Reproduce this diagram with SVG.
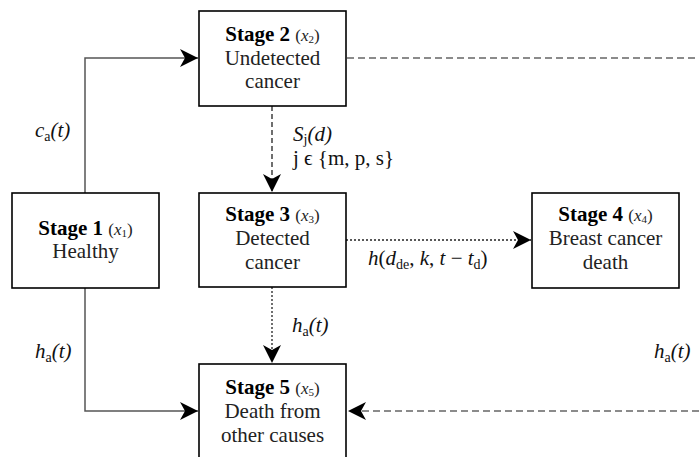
<svg xmlns="http://www.w3.org/2000/svg" width="699" height="457" viewBox="0 0 699 457" font-family="Liberation Serif">
<style>
.box{fill:#fff;stroke:#000;stroke-width:1.6}
.t{font-size:21px;fill:#222;text-anchor:middle}
.b{font-weight:bold;fill:#000}
.m{font-size:21px;font-style:italic;fill:#111}
.up{font-style:normal}
.sub{font-size:14px;font-style:normal}
.solid{fill:none;stroke:#555;stroke-width:1.5}
.dash{fill:none;stroke:#666;stroke-width:1.6;stroke-dasharray:7,4}
.dashv{fill:none;stroke:#222;stroke-width:1.3;stroke-dasharray:5,3}
.dot{fill:none;stroke:#222;stroke-width:1.3;stroke-dasharray:2,2}
</style>
<defs>
<marker id="ah" viewBox="0 0 18 18" refX="18" refY="9" markerWidth="18" markerHeight="18" markerUnits="userSpaceOnUse" orient="auto">
<path d="M0,0 L18,9 L0,18 L5,9 z" fill="#000"/>
</marker>
</defs>
<rect width="699" height="457" fill="#fff"/>
<g id="connectors">
<path class="solid" d="M85,193 V58 H198" marker-end="url(#ah)"/>
<path class="solid" d="M85,288 V411 H198" marker-end="url(#ah)"/>
<path class="dash" d="M347,58 H699"/>
<path class="dash" d="M699,411 H348" marker-end="url(#ah)"/>
<path class="dashv" d="M272,106 V192" marker-end="url(#ah)"/>
<path class="dot" d="M346,240 H531" marker-end="url(#ah)"/>
<path class="dot" d="M272,287 V363" marker-end="url(#ah)"/>
<text class="m" x="35" y="137">c<tspan class="sub" dy="4">a</tspan><tspan dy="-4">(t)</tspan></text>
<text class="m" x="35" y="358">h<tspan class="sub" dy="4">a</tspan><tspan dy="-4">(t)</tspan></text>
<text class="m" x="654" y="358">h<tspan class="sub" dy="4">a</tspan><tspan dy="-4">(t)</tspan></text>
<text class="m" x="292" y="332">h<tspan class="sub" dy="4">a</tspan><tspan dy="-4">(t)</tspan></text>
<text class="m" x="293" y="141">S<tspan class="sub" dy="3">j</tspan><tspan dy="-3">(d)</tspan></text>
<text class="m" x="293" y="165"><tspan class="up">j ϵ {m, p, s}</tspan></text>
<text class="m" x="368" y="265">h<tspan class="up">(</tspan>d<tspan class="sub" dy="4">de</tspan><tspan class="up" dy="-4">, </tspan>k<tspan class="up">, </tspan>t<tspan class="up"> − </tspan>t<tspan class="sub" dy="4">d</tspan><tspan class="up" dy="-4">)</tspan></text>
</g>
<g id="stage1">
<rect class="box" x="12" y="193" width="147" height="95"/>
<text class="t" x="85.5" y="235"><tspan class="b">Stage 1</tspan> <tspan font-size="17">(<tspan font-style="italic">x</tspan><tspan font-size="11" dy="2">1</tspan><tspan dy="-2">)</tspan></tspan></text>
<text class="t" x="85.5" y="258">Healthy</text>
</g>
<g id="stage2">
<rect class="box" x="199" y="11" width="147" height="95"/>
<text class="t" x="272.5" y="41"><tspan class="b">Stage 2</tspan> <tspan font-size="17">(<tspan font-style="italic">x</tspan><tspan font-size="11" dy="2">2</tspan><tspan dy="-2">)</tspan></tspan></text>
<text class="t" x="272.5" y="65">Undetected</text>
<text class="t" x="272.5" y="88">cancer</text>
</g>
<g id="stage3">
<rect class="box" x="199" y="193" width="147" height="94"/>
<text class="t" x="272.5" y="221"><tspan class="b">Stage 3</tspan> <tspan font-size="17">(<tspan font-style="italic">x</tspan><tspan font-size="11" dy="2">3</tspan><tspan dy="-2">)</tspan></tspan></text>
<text class="t" x="272.5" y="245">Detected</text>
<text class="t" x="272.5" y="269">cancer</text>
</g>
<g id="stage4">
<rect class="box" x="532" y="193" width="147" height="95"/>
<text class="t" x="605.5" y="221"><tspan class="b">Stage 4</tspan> <tspan font-size="17">(<tspan font-style="italic">x</tspan><tspan font-size="11" dy="2">4</tspan><tspan dy="-2">)</tspan></tspan></text>
<text class="t" x="605.5" y="245">Breast cancer</text>
<text class="t" x="605.5" y="269">death</text>
</g>
<g id="stage5">
<rect class="box" x="199" y="364" width="147" height="95"/>
<text class="t" x="272.5" y="394"><tspan class="b">Stage 5</tspan> <tspan font-size="17">(<tspan font-style="italic">x</tspan><tspan font-size="11" dy="2">5</tspan><tspan dy="-2">)</tspan></tspan></text>
<text class="t" x="272.5" y="418">Death from</text>
<text class="t" x="272.5" y="442">other causes</text>
</g>
</svg>
